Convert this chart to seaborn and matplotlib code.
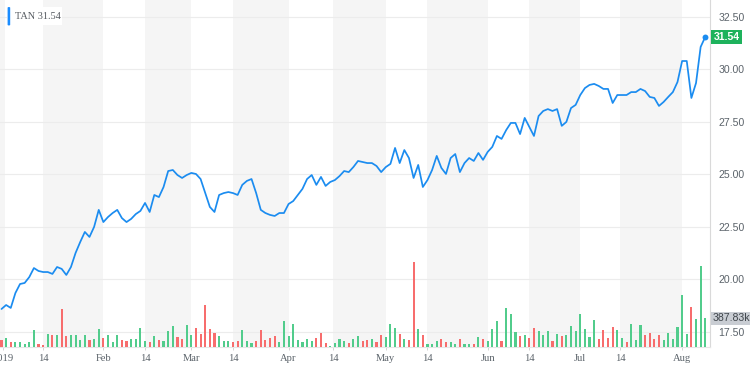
import numpy as np
import pandas as pd
import matplotlib
matplotlib.use("Agg")
import matplotlib.pyplot as plt
import matplotlib.transforms as mtransforms
from matplotlib.patches import FancyBboxPatch
import seaborn as sns

# ---------------- data ----------------
ticker = "TAN"

# daily closes, one per trading day (Dec 31 2018 ... Aug 8 2019)
price = [
    18.58, 18.77, 18.63, 19.34, 19.77, 19.82, 20.10, 20.53, 20.39, 20.34,
    20.34, 20.25, 20.58, 20.49, 20.20, 20.58, 21.25, 21.77, 22.25, 22.01,
    22.49, 23.30, 22.72, 22.96, 23.15, 23.30, 22.91, 22.72, 22.87, 23.10,
    23.25, 23.63, 23.20, 24.01, 23.91, 24.39, 25.15, 25.20, 24.96, 24.82,
    24.96, 25.06, 25.01, 24.77, 24.10, 23.44, 23.20, 24.01, 24.10, 24.15,
    24.10, 24.01, 24.49, 24.68, 24.77, 24.10, 23.30, 23.15, 23.06, 23.01,
    23.15, 23.15, 23.58, 23.72, 24.01, 24.30, 24.77, 24.96, 24.49, 24.87,
    24.44, 24.63, 24.72, 24.91, 25.15, 25.10, 25.34, 25.63, 25.58, 25.53,
    25.53, 25.39, 25.10, 25.34, 25.49, 26.25, 25.53, 26.15, 25.77, 24.82,
    25.44, 24.39, 24.72, 25.20, 25.87, 25.30, 25.01, 25.77, 25.96, 25.10,
    25.53, 25.77, 25.63, 26.01, 25.68, 26.06, 26.30, 26.82, 26.68, 27.10,
    27.44, 27.44, 26.91, 27.68, 27.25, 26.82, 27.77, 28.01, 28.10, 28.01,
    28.10, 27.30, 27.49, 28.15, 28.30, 28.77, 29.10, 29.25, 29.30, 29.20,
    29.06, 29.06, 28.39, 28.77, 28.77, 28.77, 28.91, 28.91, 29.06, 28.96,
    28.68, 28.63, 28.25, 28.44, 28.68, 28.91, 29.39, 30.39, 30.39, 28.63,
    29.34, 31.06, 31.54,
]

# daily volume, thousands of shares
volume_k = [
    90, 126, 63, 63, 72, 36, 72, 225, 36, 22,
    171, 166, 166, 517, 144, 166, 166, 99, 162, 99,
    112, 238, 121, 166, 63, 162, 99, 76, 112, 103,
    261, 81, 72, 144, 90, 76, 211, 279, 135, 112,
    292, 157, 261, 180, 562, 238, 193, 148, 76, 81,
    63, 81, 234, 81, 54, 81, 234, 90, 121, 144,
    72, 351, 153, 315, 90, 72, 112, 81, 121, 193,
    54, 18, 54, 112, 76, 54, 103, 148, 81, 90,
    103, 63, 157, 130, 306, 261, 180, 112, 90, 1143,
    247, 157, 45, 36, 76, 103, 63, 67, 45, 112,
    36, 36, 45, 130, 103, 81, 247, 346, 81, 531,
    441, 202, 144, 157, 126, 261, 216, 166, 216, 81,
    171, 148, 157, 279, 216, 441, 247, 135, 369, 112,
    225, 126, 270, 234, 121, 72, 315, 99, 292, 157,
    193, 112, 157, 90, 193, 112, 270, 706, 180, 540,
    373, 1089, 387.83,
]

# bar direction: g = up day, r = down day
bar_dir = (
    "rgrgggggrr" "grgrrggggr" "ggrgggrrgg" "ggrgrgggrr" "ggrrrrrggg"
    "rrgggrrrrr" "ggggggggrr" "rggggrggrr" "grrgggrgrr" "grgggrrggr"
    "ggrgrgggrg" "ggrgrrgggr" "grgggggggr" "rrrggrgggr" "rrrggggggr"
    "ggg"
)

# x tick positions (trading-day index) and labels
tick_pos = [0.4, 9, 22, 31, 41, 50, 62, 71.67, 83, 92, 105, 114, 125, 133.67, 147]
tick_labels = ["2019", "14", "Feb", "14", "Mar", "14", "Apr", "14",
               "May", "14", "Jun", "14", "Jul", "14", "Aug"]

# shaded background bands (from mid-month tick to the next month tick)
band_start = [-1, 9, 31, 50, 71.67, 92, 114, 133.67]
band_end = [0.75, 22, 41, 62, 83, 105, 125, 147]

price_ticks = [17.5, 20.0, 22.5, 25.0, 27.5, 30.0, 32.5]

# ---------------- style ----------------
LINE = "#1b8cf0"
GREEN_BAR = "#52cc8c"
RED_BAR = "#f76d6d"
GREEN_LBL = "#1eb25c"
BAND = "#f5f5f5"
GRID = "#ececec"
TXT = "#5b636a"

sns.set_theme(style="white")
plt.rcParams["font.family"] = ["DejaVu Sans"]

W, H = 750, 369
fig = plt.figure(figsize=(W / 100, H / 100), dpi=100)
fig.patch.set_facecolor("white")

rect = [0, 22 / H, 710 / W, 347 / H]
ax = fig.add_axes(rect)
axv = fig.add_axes(rect, sharex=ax)
axv.patch.set_visible(False)

n = len(price)
df = pd.DataFrame({
    "idx": np.arange(n),
    "price": price,
    "vol": volume_k,
    "dir": ["up" if c == "g" else "down" for c in bar_dir[:n]],
})

# bands and grid
for a, b in zip(band_start, band_end):
    ax.axvspan(a, b, color=BAND, lw=0, zorder=0)
for t in price_ticks:
    ax.axhline(t, color=GRID, lw=0.8, zorder=0.5)

# price line
sns.lineplot(data=df, x="idx", y="price", ax=ax, color=LINE, lw=1.25,
             zorder=3, legend=False)
ax.scatter([df["idx"].iloc[-1]], [price[-1]], s=18, color=LINE, zorder=5,
           clip_on=False, linewidths=0)

# volume bars
bar_colors = df["dir"].map({"up": GREEN_BAR, "down": RED_BAR})
axv.bar(df["idx"], df["vol"], width=0.46, color=bar_colors, linewidth=0,
        align="center")

# axes limits
ax.set_xlim(-0.324, 153.02)
ax.set_ylim(16.77, 33.295)
axv.set_ylim(0, 4684)
axv.set_xlim(-0.324, 153.02)
axv.set_axis_off()

# ticks
ax.yaxis.tick_right()
ax.set_yticks(price_ticks)
ax.set_yticklabels([f"{t:.2f}" for t in price_ticks])
ax.tick_params(axis="y", length=0, pad=6, labelsize=7.6, labelcolor=TXT)
for lbl in ax.get_yticklabels():
    lbl.set_fontfamily("Liberation Sans")

ax.set_xticks(tick_pos)
ax.set_xticklabels(tick_labels)
ax.tick_params(axis="x", length=2.5, width=0.6, color="#cfcfcf", pad=2.5,
               labelsize=7.6, labelcolor=TXT, bottom=True)
for lbl in ax.get_xticklabels():
    lbl.set_fontfamily("Liberation Serif")

ax.set_xlabel("")
ax.set_ylabel("")
for s in ["top", "left"]:
    ax.spines[s].set_visible(False)
ax.spines["right"].set_color("#d9d9d9")
ax.spines["right"].set_linewidth(0.8)
ax.spines["bottom"].set_color("#e6e6e6")
ax.spines["bottom"].set_linewidth(0.8)

# last price label
trans_p = mtransforms.blended_transform_factory(ax.transAxes, ax.transData)
ax.text(1.0 + 3.5 / 710, price[-1], f"{price[-1]:.2f}", transform=trans_p,
        ha="left", va="center", color="white", fontsize=7.6, fontweight="bold",
        family="Liberation Sans",
        bbox=dict(boxstyle="square,pad=0.22", fc=GREEN_LBL, ec="none"),
        clip_on=False, zorder=6)

# last volume label
trans_v = mtransforms.blended_transform_factory(axv.transAxes, axv.transData)
axv.text(1.0 + 3 / 710, volume_k[-1], f"{volume_k[-1]:.2f}k", transform=trans_v,
         ha="left", va="center", color="#3f454b", fontsize=7.6,
         family="Liberation Sans",
         bbox=dict(boxstyle="square,pad=0.15", fc="#c9cdd3", ec="none"),
         clip_on=False, zorder=6)

# legend chip (top-left)
fig.patches.append(FancyBboxPatch((7 / W, 1 - 25 / H), 55 / W, 18 / H,
                                  boxstyle="square,pad=0", fc="white", ec="none",
                                  transform=fig.transFigure, zorder=10))
fig.patches.append(FancyBboxPatch((7.6 / W, 1 - 25.5 / H), 2.6 / W, 18.5 / H,
                                  boxstyle="round,pad=0,rounding_size=0.002",
                                  fc="#1a8cff", ec="none",
                                  transform=fig.transFigure, zorder=11))
fig.text(15 / W, 1 - 16.3 / H, f"{ticker} {price[-1]:.2f}", ha="left", va="center",
         fontsize=7.4, color="#555a60", family="Liberation Serif", zorder=12)

fig.savefig("out.png", dpi=100, facecolor="white")
